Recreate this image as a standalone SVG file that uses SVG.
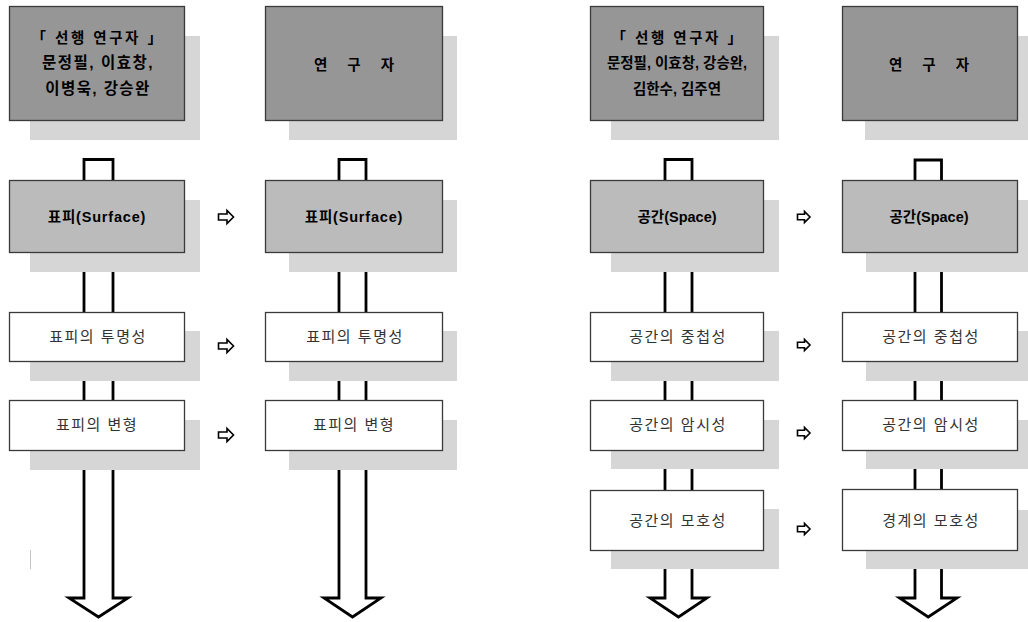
<svg xmlns="http://www.w3.org/2000/svg" width="1028" height="622" viewBox="0 0 1028 622">
<style>
.bg{fill:#ffffff}
.sh{fill:#d6d6d6}
.b1{fill:#969696;stroke:#3a3a3a;stroke-width:1.3}
.b2{fill:#bbbbbb;stroke:#3a3a3a;stroke-width:1.3}
.b3{fill:#ffffff;stroke:#3a3a3a;stroke-width:1.3}
.dbl{fill:none;stroke:#000;stroke-width:2.8;stroke-linejoin:miter}
.fat{fill:#fff;stroke:#000;stroke-width:1.6;stroke-linejoin:miter}
text{font-family:"Liberation Sans","Noto Sans CJK KR",sans-serif;text-anchor:middle}
.hb{font-size:14.5px;font-weight:bold;fill:#000}
.t{font-size:15px;fill:#333;letter-spacing:1.5px}
</style>
<defs>
<polygon id="ar1" class="fat" points="0,-3 8.5,-3 8.5,-6.5 15,0 8.5,6.5 8.5,3 0,3"/>
<polygon id="ar2" class="fat" points="0,-2.8 7,-2.8 7,-5.5 12.5,0 7,5.5 7,2.8 0,2.8"/>
</defs>
<rect class="bg" x="0" y="0" width="1028" height="622"/>
<g id="connectors">
<path class="dbl" d="M84,598 L84,159.5 L113,159.5 L113,598 L128,598 L98.5,617 L69,598 Z"/>
<path class="dbl" d="M339,598 L339,159.5 L366,159.5 L366,598 L381,598 L352.5,617 L324,598 Z"/>
<path class="dbl" d="M665,598 L665,159.5 L692,159.5 L692,598 L707,598 L678.5,617 L650,598 Z"/>
<path class="dbl" d="M915,598 L915,160 L941.5,160 L941.5,598 L957,598 L928.2,617 L899.5,598 Z"/>
<use href="#ar1" x="218.5" y="217"/>
<use href="#ar1" x="218.5" y="346"/>
<use href="#ar1" x="218.5" y="435"/>
<use href="#ar2" x="797.5" y="217"/>
<use href="#ar2" x="797.5" y="345"/>
<use href="#ar2" x="797.5" y="433"/>
<use href="#ar2" x="797.5" y="529"/>
<line x1="30.5" y1="550" x2="30.5" y2="569" stroke="#c4c4c4" stroke-width="1"/>
</g>
<!-- Column 1 -->
<g id="c1-prior">
<rect class="sh" x="30" y="36" width="170" height="104"/>
<rect class="b1" x="9.5" y="6.5" width="175" height="114"/>
<text class="hb" x="98" y="43" style="letter-spacing:2.5px">「 선행 연구자 」</text>
<text class="hb" x="98" y="68" style="font-size:15.5px;letter-spacing:1.5px">문정필, 이효창,</text>
<text class="hb" x="98" y="94" style="font-size:15.5px;letter-spacing:1.4px">이병욱, 강승완</text>
</g>
<g id="c1-surface">
<rect class="sh" x="30" y="200" width="170" height="72"/>
<rect class="b2" x="9.5" y="180.5" width="175" height="72"/>
<text class="hb" x="97" y="222" style="letter-spacing:0.8px">표피(Surface)</text>
</g>
<g id="c1-transparency">
<rect class="sh" x="30" y="331" width="170" height="50"/>
<rect class="b3" x="9.5" y="312.5" width="175" height="49"/>
<text class="t" x="98" y="342">표피의 투명성</text>
</g>
<g id="c1-deformation">
<rect class="sh" x="30" y="420" width="170" height="50"/>
<rect class="b3" x="9.5" y="400.5" width="175" height="50"/>
<text class="t" x="97" y="430">표피의 변형</text>
</g>
<!-- Column 2 -->
<g id="c2-researcher">
<rect class="sh" x="289" y="36" width="168" height="104"/>
<rect class="b1" x="265.5" y="6.5" width="177" height="114"/>
<text class="hb" x="354" y="70" style="word-spacing:16px">연 구 자</text>
</g>
<g id="c2-surface">
<rect class="sh" x="289" y="200" width="168" height="72"/>
<rect class="b2" x="265.5" y="180.5" width="177" height="72"/>
<text class="hb" x="354" y="222" style="letter-spacing:0.8px">표피(Surface)</text>
</g>
<g id="c2-transparency">
<rect class="sh" x="289" y="331" width="168" height="50"/>
<rect class="b3" x="265.5" y="312.5" width="177" height="49"/>
<text class="t" x="355" y="342">표피의 투명성</text>
</g>
<g id="c2-deformation">
<rect class="sh" x="289" y="420" width="168" height="50"/>
<rect class="b3" x="265.5" y="400.5" width="177" height="50"/>
<text class="t" x="354" y="430">표피의 변형</text>
</g>
<!-- Column 3 -->
<g id="c3-prior">
<rect class="sh" x="611" y="36" width="168" height="104"/>
<rect class="b1" x="590.5" y="6.5" width="173" height="114"/>
<text class="hb" x="678" y="43" style="letter-spacing:2.5px">「 선행 연구자 」</text>
<text class="hb" x="677" y="68">문정필, 이효창, 강승완,</text>
<text class="hb" x="677" y="94">김한수, 김주연</text>
</g>
<g id="c3-space">
<rect class="sh" x="611" y="200" width="168" height="72"/>
<rect class="b2" x="590.5" y="180.5" width="173" height="72"/>
<text class="hb" x="677" y="222">공간(Space)</text>
</g>
<g id="c3-overlap">
<rect class="sh" x="611" y="331" width="168" height="50"/>
<rect class="b3" x="590.5" y="312.5" width="173" height="49"/>
<text class="t" x="678" y="342">공간의 중첩성</text>
</g>
<g id="c3-implication">
<rect class="sh" x="611" y="420" width="168" height="49"/>
<rect class="b3" x="590.5" y="400.5" width="173" height="50"/>
<text class="t" x="678" y="430">공간의 암시성</text>
</g>
<g id="c3-ambiguity">
<rect class="sh" x="611" y="509" width="168" height="60"/>
<rect class="b3" x="590.5" y="490.5" width="173" height="60"/>
<text class="t" x="678" y="526">공간의 모호성</text>
</g>
<!-- Column 4 -->
<g id="c4-researcher">
<rect class="sh" x="865" y="36" width="168" height="104"/>
<rect class="b1" x="842.5" y="6.5" width="175" height="114"/>
<text class="hb" x="929" y="70" style="word-spacing:16px">연 구 자</text>
</g>
<g id="c4-space">
<rect class="sh" x="866" y="200" width="168" height="72"/>
<rect class="b2" x="842.5" y="180.5" width="175" height="72"/>
<text class="hb" x="929" y="222">공간(Space)</text>
</g>
<g id="c4-overlap">
<rect class="sh" x="866" y="331" width="168" height="50"/>
<rect class="b3" x="842.5" y="312.5" width="175" height="49"/>
<text class="t" x="931" y="342">공간의 중첩성</text>
</g>
<g id="c4-implication">
<rect class="sh" x="866" y="420" width="168" height="49"/>
<rect class="b3" x="842.5" y="400.5" width="175" height="50"/>
<text class="t" x="931" y="430">공간의 암시성</text>
</g>
<g id="c4-boundary">
<rect class="sh" x="866" y="510" width="168" height="59"/>
<rect class="b3" x="842.5" y="489.5" width="175" height="61"/>
<text class="t" x="931" y="526">경계의 모호성</text>
</g>
</svg>
